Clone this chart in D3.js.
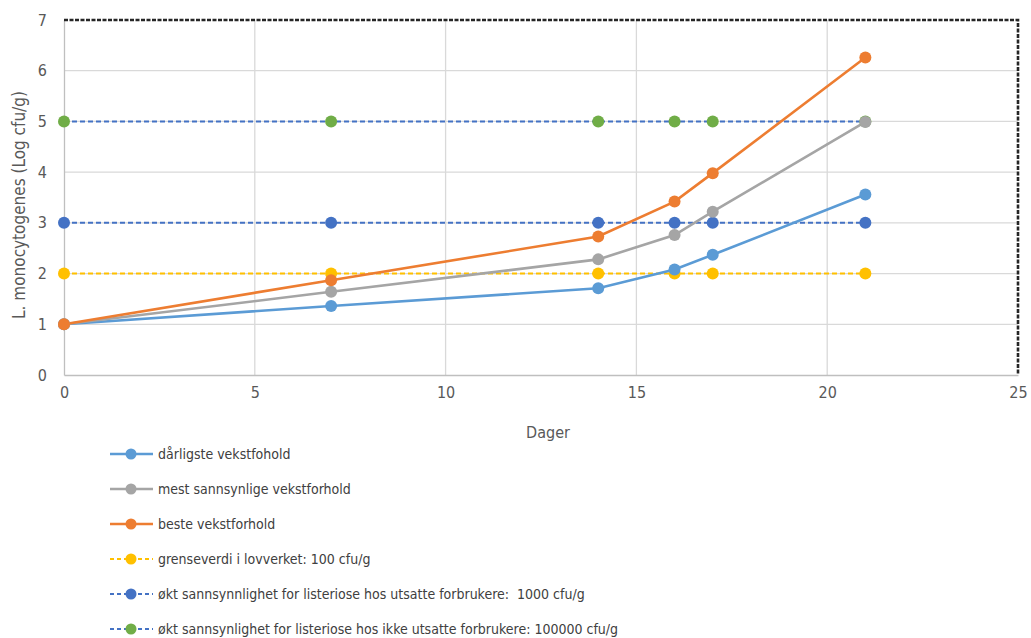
<!DOCTYPE html>
<html><head><meta charset="utf-8">
<script src="https://cdn.jsdelivr.net/npm/d3@7"></script>
<style>
body{margin:0;background:#fff;}
text{font-family:'Liberation Sans Narrow','DejaVu Sans Condensed',sans-serif;white-space:pre;}
</style></head>
<body><svg id="c" width="1031" height="638"></svg>
<script>
const days = [0, 7, 14, 16, 17, 21];
const worst = [1, 1.36, 1.71, 2.08, 2.37, 3.56];
const likely = [1, 1.64, 2.28, 2.76, 3.22, 4.99];
const best = [1, 1.87, 2.73, 3.42, 3.98, 6.26];
const limit100 = [2, 2, 2, 2, 2, 2];
const risk1000 = [3, 3, 3, 3, 3, 3];
const risk100000 = [5, 5, 5, 5, 5, 5];
const xTicks = [0, 5, 10, 15, 20, 25];
const yTicks = [0, 1, 2, 3, 4, 5, 6, 7];
const seriesNames = [
  "dårligste vekstfohold",
  "mest sannsynlige vekstforhold",
  "beste vekstforhold",
  "grenseverdi i lovverket: 100 cfu/g",
  "økt sannsynnlighet for listeriose hos utsatte forbrukere:  1000 cfu/g",
  "økt sannsynlighet for listeriose hos ikke utsatte forbrukere: 100000 cfu/g"
];
const series = [
  {name: seriesNames[0], values: worst, line: "#5B9BD5", marker: "#5B9BD5", dash: null},
  {name: seriesNames[1], values: likely, line: "#A5A5A5", marker: "#A5A5A5", dash: null},
  {name: seriesNames[2], values: best, line: "#ED7D31", marker: "#ED7D31", dash: null},
  {name: seriesNames[3], values: limit100, line: "#FFC000", marker: "#FFC000", dash: "5,3"},
  {name: seriesNames[4], values: risk1000, line: "#4472C4", marker: "#4472C4", dash: "5,3"},
  {name: seriesNames[5], values: risk100000, line: "#4472C4", marker: "#70AD47", dash: "5,3"}
];

const svg = d3.select("#c");
const L = 64, R = 1018, T = 20, B = 375;
const x = d3.scaleLinear().domain([0, 25]).range([L, R]);
const y = d3.scaleLinear().domain([0, 7]).range([B, T]);

// gridlines
svg.append("g").selectAll("line").data(yTicks.slice(1, -1)).join("line")
  .attr("x1", L).attr("x2", R).attr("y1", d => y(d)).attr("y2", d => y(d))
  .attr("stroke", "#d9d9d9").attr("stroke-width", 1.3);
svg.append("g").selectAll("line").data(xTicks.slice(1, -1)).join("line")
  .attr("y1", T).attr("y2", B).attr("x1", d => x(d)).attr("x2", d => x(d))
  .attr("stroke", "#d9d9d9").attr("stroke-width", 1.3);

// axes
const xAxis = svg.append("g").attr("transform", `translate(0,${B})`)
  .call(d3.axisBottom(x).tickValues(xTicks).tickFormat(d3.format("d")).tickSize(0).tickPadding(12));
xAxis.select(".domain").attr("stroke", "#bfbfbf").attr("stroke-width", 1.3);
xAxis.selectAll("text").attr("font-size", 16).attr("fill", "#595959");
const yAxis = svg.append("g").attr("transform", `translate(${L},0)`)
  .call(d3.axisLeft(y).tickValues(yTicks).tickFormat(d3.format("d")).tickSize(0).tickPadding(17));
yAxis.select(".domain").attr("stroke", "#bfbfbf").attr("stroke-width", 1.3);
yAxis.selectAll("text").attr("font-size", 16).attr("fill", "#595959");

// dashed border (top & right)
svg.append("path")
  .attr("d", `M${L},${T}H${R}V${B}`)
  .attr("fill", "none").attr("stroke", "#262626").attr("stroke-width", 2.6)
  .attr("stroke-dasharray", "4,1.5");

// axis titles
svg.append("text").attr("x", (L + R) / 2 + 7).attr("y", 438).attr("text-anchor", "middle")
  .attr("font-size", 16).attr("fill", "#595959").text("Dager");
svg.append("text").attr("transform", "translate(25,205) rotate(-90)").attr("text-anchor", "middle")
  .attr("font-size", 17).attr("fill", "#595959").text("L. monocytogenes (Log cfu/g)");

// lines (reference lines first)
const line = d3.line().x((d, i) => x(days[i])).y(d => y(d));
const order = [3, 4, 5, 0, 1, 2];
order.forEach(k => {
  const s = series[k];
  svg.append("path").datum(s.values).attr("d", line)
    .attr("fill", "none").attr("stroke", s.line).attr("stroke-width", s.dash ? 2 : 2.6)
    .attr("stroke-dasharray", s.dash);
});
order.forEach(k => {
  const s = series[k];
  svg.append("g").selectAll("circle").data(s.values).join("circle")
    .attr("cx", (d, i) => x(days[i])).attr("cy", d => y(d)).attr("r", 6)
    .attr("fill", s.marker);
});

// legend
const lg = svg.append("g");
series.forEach((s, i) => {
  const cy = 454 + i * 35;
  lg.append("line").attr("x1", 110).attr("x2", 153).attr("y1", cy).attr("y2", cy)
    .attr("stroke", s.line).attr("stroke-width", s.dash ? 2 : 2.6)
    .attr("stroke-dasharray", s.dash ? "4,3" : null);
  lg.append("circle").attr("cx", 131).attr("cy", cy).attr("r", 5.5).attr("fill", s.marker);
  lg.append("text").attr("x", 158).attr("y", cy + 5).attr("font-size", 14)
    .attr("fill", "#404040").text(s.name);
});
</script></body></html>
